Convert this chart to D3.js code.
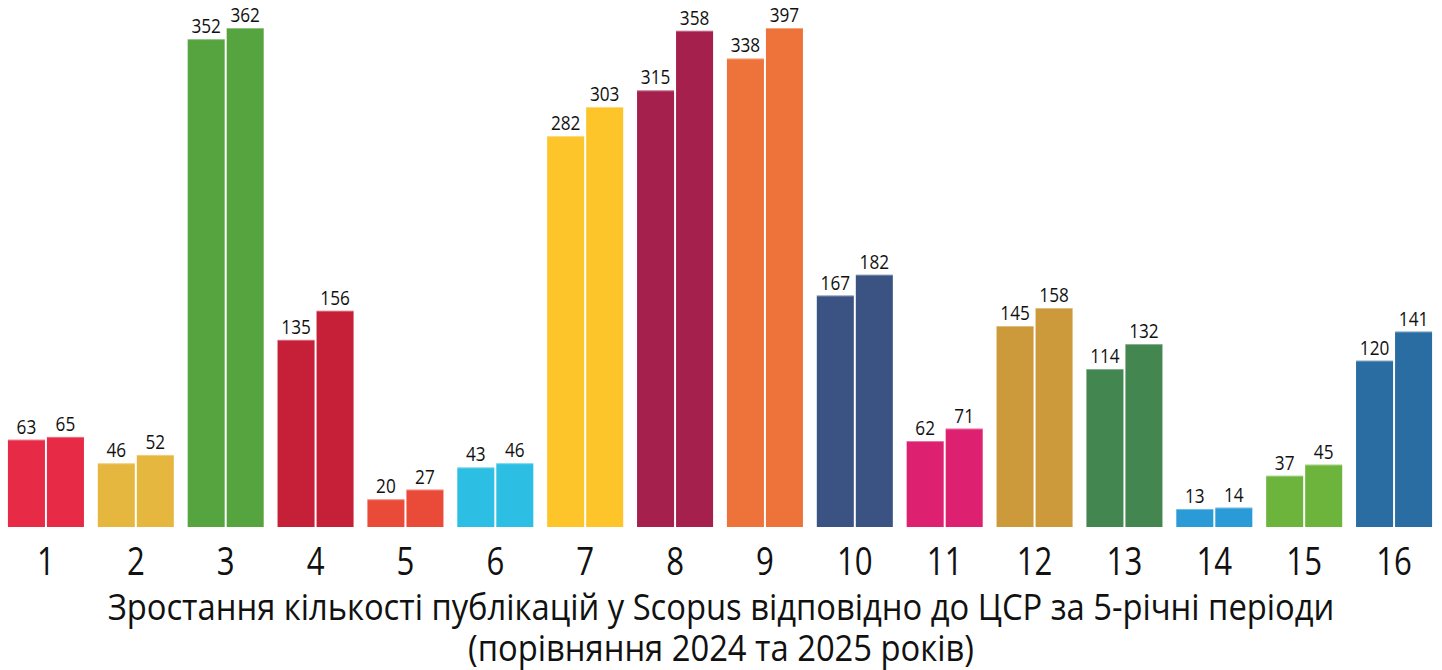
<!DOCTYPE html>
<html>
<head>
<meta charset="utf-8">
<script src="https://cdn.jsdelivr.net/npm/d3@7"></script>
<style>
  html, body { margin: 0; padding: 0; background: #fff; }
  svg { display: block; }
  text { font-family: "Open Sans", "Noto Sans", sans-serif; fill: #111; }
</style>
</head>
<body>
<svg id="chart" width="1442" height="670"></svg>
<script>
// ЦСР 1..16, дві серії: 2024 та 2025
var goals = ['1', '2', '3', '4', '5', '6', '7', '8', '9', '10', '11', '12', '13', '14', '15', '16'];
var years = ['2024', '2025'];
var v2024 = [63, 46, 352, 135, 20, 43, 282, 315, 338, 167, 62, 145, 114, 13, 37, 120];
var v2025 = [65, 52, 362, 156, 27, 46, 303, 358, 397, 182, 71, 158, 132, 14, 45, 141];
var colors = ['#e72a45', '#e6b73f', '#56a440', '#c61f38', '#ea4b39', '#2cbfe3', '#fdc52a', '#a6204d',
  '#ee733b', '#3b5383', '#de2070', '#cc9a3a', '#448650', '#2a9bd6', '#6db43d', '#2a6da2'];
var titleLines = ['Зростання кількості публікацій у Scopus відповідно до ЦСР за 5-річні періоди',
  '(порівняння 2024 та 2025 років)'];

var svg = d3.select('#chart');
var base = 527;

var x = d3.scaleBand().domain(goals).range([1, 1439]).paddingInner(0.154).paddingOuter(0.077);
var xs = d3.scaleBand().domain(years).range([0, x.bandwidth()]).paddingInner(0.051);
// верхівка обрізана як у макеті: найвищі стовпці впираються в один рівень
var y = d3.scaleLinear().domain([0, 360]).range([base, 28]).clamp(true);

var data = [];
goals.forEach(function (g, i) {
  data.push({ g: g, yr: '2024', v: v2024[i], c: colors[i] });
  data.push({ g: g, yr: '2025', v: v2025[i], c: colors[i] });
});

var bars = svg.append('g');
bars.selectAll('rect').data(data).enter().append('rect')
  .attr('x', function (d) { return x(d.g) + xs(d.yr); })
  .attr('width', xs.bandwidth())
  .attr('y', function (d) { return y(d.v); })
  .attr('height', function (d) { return base - y(d.v); })
  .attr('fill', function (d) { return d.c; });
// світла риска по верху стовпця
bars.selectAll('line').data(data).enter().append('line')
  .attr('x1', function (d) { return x(d.g) + xs(d.yr); })
  .attr('x2', function (d) { return x(d.g) + xs(d.yr) + xs.bandwidth(); })
  .attr('y1', function (d) { return y(d.v) + 0.5; })
  .attr('y2', function (d) { return y(d.v) + 0.5; })
  .attr('stroke', '#fff').attr('stroke-opacity', 0.35);

svg.append('g').selectAll('text').data(data).enter().append('text')
  .attr('text-anchor', 'middle').attr('font-size', 20)
  .attr('transform', function (d) {
    return 'translate(' + (x(d.g) + xs(d.yr) + xs.bandwidth() / 2) + ',' + (y(d.v) - 6) + ') scale(0.86,1)';
  })
  .text(function (d) { return d.v; });

var ax = svg.append('g').attr('transform', 'translate(0,' + base + ')')
  .call(d3.axisBottom(x).tickSize(0).tickPadding(0));
ax.select('.domain').remove();
ax.selectAll('.tick text')
  .attr('dy', null).attr('y', 48).attr('x', 0)
  .attr('font-size', 39).attr('fill', '#111')
  .attr('font-family', '"Open Sans", "Noto Sans", sans-serif')
  .attr('transform', 'scale(0.8,1)');

svg.append('g').selectAll('text').data(titleLines).enter().append('text')
  .attr('text-anchor', 'middle').attr('font-size', 37)
  .attr('transform', function (d, i) { return 'translate(721,' + (620 + i * 41) + ') scale(0.885,1)'; })
  .text(function (d) { return d; });
</script>
</body>
</html>
